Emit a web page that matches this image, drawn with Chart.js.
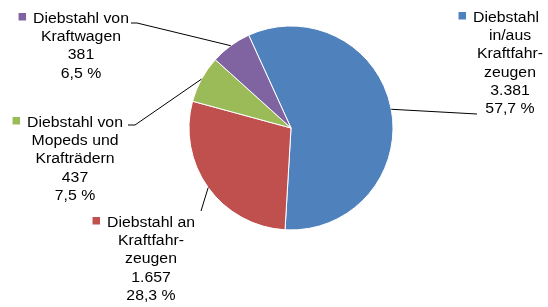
<!DOCTYPE html>
<html>
<head>
<meta charset="utf-8">
<script src="https://cdn.jsdelivr.net/npm/chart.js@4/dist/chart.umd.min.js"></script>
<style>
    html, body { margin: 0; padding: 0; background: #fff; }
    #wrap { width: 548px; height: 307px; }
</style>
</head>
<body>
<div id="wrap"><canvas id="chart" width="548" height="307"></canvas></div>
<script>
// data
const categories = [
    ["Diebstahl", "in/aus", "Kraftfahr-", "zeugen"],
    ["Diebstahl an", "Kraftfahr-", "zeugen"],
    ["Diebstahl von", "Mopeds und", "Krafträdern"],
    ["Diebstahl von", "Kraftwagen"]
];
const values = [3381, 1657, 437, 381];
const colors = ["#4F81BD", "#C0504D", "#9BBB59", "#8064A2"];

// label placement: text centre x, first baseline y, first line shift, leader start points
const labelPos = [
    { x: 510, y: 22, firstDx: -4, leader: [[477, 114]] },
    { x: 151, y: 227, firstDx: 0, leader: [[201, 211]] },
    { x: 75, y: 127, firstDx: 0, leader: [[128, 125], [135, 125]] },
    { x: 81, y: 23, firstDx: 0, leader: [[131, 23], [137, 23]] }
];

function formatNumber(n) {
    return String(n).replace(/\B(?=(\d{3})+(?!\d))/g, ".");
}

const total = values.reduce((acc, v) => acc + v, 0);

const labelPlugin = {
    id: "outsideLabels",
    afterDatasetsDraw(chart) {
        const ctx = chart.ctx;
        const arcs = chart.getDatasetMeta(0).data;
        const lineHeight = 18.2;
        const stretch = 1.13;
        ctx.save();
        ctx.font = "14px 'Liberation Sans', Arial, sans-serif";
        ctx.textBaseline = "alphabetic";
        ctx.fillStyle = "#000";
        ctx.strokeStyle = "#000";
        ctx.lineWidth = 1;

        arcs.forEach((arc, i) => {
            const pos = labelPos[i];
            const mid = (arc.startAngle + arc.endAngle) / 2;
            const ex = arc.x + Math.cos(mid) * arc.outerRadius;
            const ey = arc.y + Math.sin(mid) * arc.outerRadius;

            // leader line
            ctx.beginPath();
            ctx.moveTo(pos.leader[0][0], pos.leader[0][1]);
            for (let k = 1; k < pos.leader.length; k++) {
                ctx.lineTo(pos.leader[k][0], pos.leader[k][1]);
            }
            ctx.lineTo(ex, ey);
            ctx.stroke();

            // text lines
            const pct = (values[i] / total * 100).toFixed(1).replace(".", ",") + " %";
            const lines = categories[i].concat([formatNumber(values[i]), pct]);
            lines.forEach((line, j) => {
                const w = ctx.measureText(line).width * stretch;
                const cx = pos.x + (j === 0 ? pos.firstDx : 0);
                const y = pos.y + j * lineHeight;
                ctx.save();
                ctx.translate(cx - w / 2, y);
                ctx.scale(stretch, 1);
                ctx.fillText(line, 0, 0);
                ctx.restore();
                if (j === 0) {
                    // legend key
                    ctx.fillStyle = colors[i];
                    ctx.fillRect(cx - w / 2 - 14.5, y - 10, 7.5, 7.5);
                    ctx.fillStyle = "#000";
                }
            });
        });
        ctx.restore();
    }
};

new Chart(document.getElementById("chart"), {
    type: "pie",
    data: {
        labels: categories.map(c => c.join(" ")),
        datasets: [{
            data: values,
            backgroundColor: colors,
            borderColor: "#ffffff",
            borderWidth: 1,
            hoverOffset: 0
        }]
    },
    options: {
        responsive: false,
        animation: false,
        rotation: -24.5,
        radius: 102,
        layout: {
            padding: { left: 189, right: 155, top: 26, bottom: 77 }
        },
        plugins: {
            legend: { display: false },
            tooltip: { enabled: false }
        }
    },
    plugins: [labelPlugin]
});
</script>
</body>
</html>
